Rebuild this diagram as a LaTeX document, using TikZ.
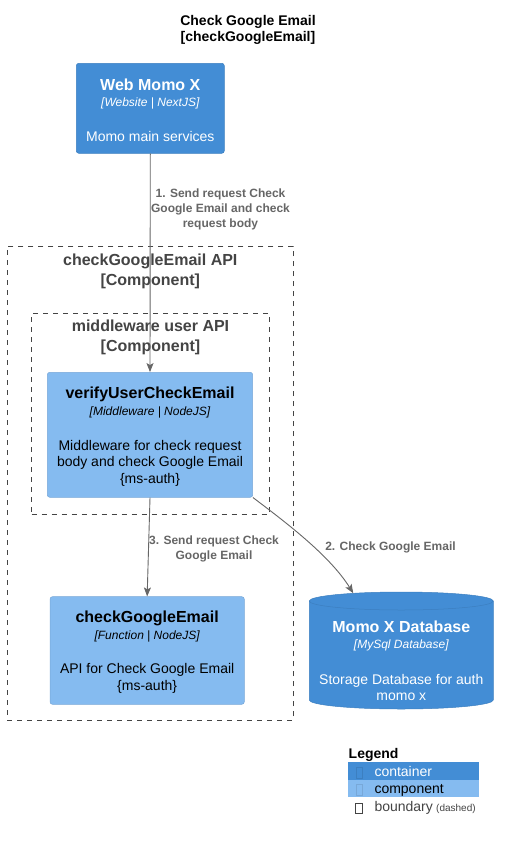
\documentclass[tikz,border=0pt]{standalone}
\usepackage{fontspec}
\setmainfont{Liberation Sans}
\usetikzlibrary{arrows.meta,calc}
\definecolor{ctrblue}{HTML}{438DD5}
\definecolor{ctrline}{HTML}{3C7FC0}
\definecolor{cmpblue}{HTML}{85BBF0}
\definecolor{cmpline}{HTML}{78A8D8}
\definecolor{bndgray}{HTML}{444444}
\definecolor{relgray}{HTML}{666666}
\tikzset{
  ctr/.style={fill=ctrblue, draw=ctrline, rounded corners=2.5, line width=0.5, inner sep=0},
  cmp/.style={fill=cmpblue, draw=cmpline, rounded corners=2.5, line width=0.5, inner sep=0},
  bnd/.style={draw=bndgray, dash pattern=on 5 off 5, line width=0.9, inner sep=0},
  ln/.style={anchor=base, inner sep=0},
  lnw/.style={anchor=base west, inner sep=0},
  nm/.style={ln, font=\fontsize{16}{19}\selectfont\bfseries},
  stt/.style={ln, font=\fontsize{12}{14}\selectfont\itshape},
  dsc/.style={ln, font=\fontsize{14}{16}\selectfont},
  bl/.style={ln, font=\fontsize{16}{19}\selectfont\bfseries, text=bndgray},
  rel/.style={draw=relgray, line width=0.9, -{Stealth[length=9,width=7,inset=2]}},
  rl/.style={ln, font=\fontsize{12}{14}\selectfont\bfseries, text=relgray},
  ttl/.style={ln, font=\fontsize{14}{16}\selectfont\bfseries},
  lg/.style={lnw, font=\fontsize{14}{16}\selectfont},
}
\begin{document}
\begin{tikzpicture}[x=1pt,y=-1pt]
\useasboundingbox (0,0) rectangle (509,841);
\fill[white] (0,0) rectangle (509,841);

% title
\node[ttl] (title1) at (248,25.5) {Check Google Email};
\node[ttl] (title2) at (248,41.5) {[checkGoogleEmail]};

% boundaries
\node[bnd, minimum width=286, minimum height=474] (outer) at (150.3,483) {};
\node[bl] (outern) at (150.3,265) {checkGoogleEmail API};
\node[bl] (outers) at (150.3,285) {[Component]};
\node[bnd, minimum width=237.6, minimum height=200.7] (inner) at (150.5,413.65) {};
\node[bl] (innern) at (150.5,331.7) {middleware user API};
\node[bl] (inners) at (150.5,351.7) {[Component]};

% Web Momo X
\node[ctr, minimum width=148, minimum height=90] (web) at (150.3,108.3) {};
\node[nm, text=white] (webn) at (150.3,90) {Web Momo X};
\node[stt, text=white] (webs) at (150.3,106) {[Website | NextJS]};
\node[dsc, text=white] (webd) at (150.3,141) {Momo main services};

% verifyUserCheckEmail
\node[cmp, minimum width=205.4, minimum height=125] (verify) at (150,434.8) {};
\node[nm] (vern) at (150,398.3) {verifyUserCheckEmail};
\node[stt] (vers) at (150,415) {[Middleware | NodeJS]};
\node[dsc] (verd1) at (150,450) {Middleware for check request};
\node[dsc] (verd2) at (150,466.7) {body and check Google Email};
\node[dsc] (verd3) at (150,483.5) {\{ms-auth\}};

% checkGoogleEmail
\node[cmp, minimum width=194.3, minimum height=107.6] (cge) at (147.15,650.5) {};
\node[nm] (cgen) at (147.15,622.7) {checkGoogleEmail};
\node[stt] (cges) at (147.15,639) {[Function | NodeJS]};
\node[dsc] (cged1) at (147.15,673.3) {API for Check Google Email};
\node[dsc] (cged2) at (147.15,690.7) {\{ms-auth\}};

% database
\path[fill=ctrblue, draw=ctrline, line width=0.5]
  (309.3,601) .. controls (309.3,596.03) and (350.5,592) .. (401.3,592)
  .. controls (452.1,592) and (493.3,596.03) .. (493.3,601)
  -- (493.3,700) .. controls (493.3,704.97) and (452.1,709) .. (401.3,709)
  .. controls (350.5,709) and (309.3,704.97) .. (309.3,700) -- cycle;
\draw[ctrline, line width=0.5]
  (309.3,601) .. controls (309.3,605.97) and (350.5,610) .. (401.3,610)
  .. controls (452.1,610) and (493.3,605.97) .. (493.3,601);
\coordinate (dbtop) at (353.3,593.3);
\node[nm, text=white] (dbn) at (401.3,632.7) {Momo X Database};
\node[stt, text=white] (dbs) at (401.3,648.7) {[MySql Database]};
\node[dsc, text=white] (dbd1) at (401.3,684) {Storage Database for auth};
\node[dsc, text=white] (dbd2) at (401.3,700) {momo x};

% relations
\draw[rel] (web.south) -- (verify.north);
\node[rl] (r1a) at (220.5,197) {1. Send request Check};
\node[rl] (r1b) at (220.5,212) {Google Email and check};
\node[rl] (r1c) at (220.5,227) {request body};

\draw[rel] (verify.south) -- (cge.north);
\node[rl] (r3a) at (214,544) {3. Send request Check};
\node[rl] (r3b) at (214,559) {Google Email};

\draw[rel] (verify.south east) .. controls (288,524) and (330,556) .. (dbtop);
\node[rl] (r2a) at (390.5,550.7) {2. Check Google Email};

% legend
\node[lnw, font=\fontsize{14}{16}\selectfont\bfseries] (lgt) at (348.5,758.3) {Legend};
\fill[ctrblue] (348.3,762.3) rectangle (479.3,780);
\fill[cmpblue] (348.3,780) rectangle (479.3,797.3);
\draw[ctrline, line width=0.6] (355.8,767) rectangle (362.3,778);
\draw[cmpline, line width=0.6] (355.8,784.5) rectangle (362.3,795.5);
\draw[bndgray, line width=0.8] (355.8,803.5) rectangle (362.3,813);
\node[lg, text=white] (lgc) at (374.3,776.7) {container};
\node[lg] (lgm) at (374.3,793.3) {component};
\node[lg, text=bndgray] (lgb) at (374.3,811) {boundary};
\node[lnw, font=\fontsize{10}{12}\selectfont, text=bndgray] (lgd) at (436,811) {(dashed)};
\end{tikzpicture}
\end{document}
